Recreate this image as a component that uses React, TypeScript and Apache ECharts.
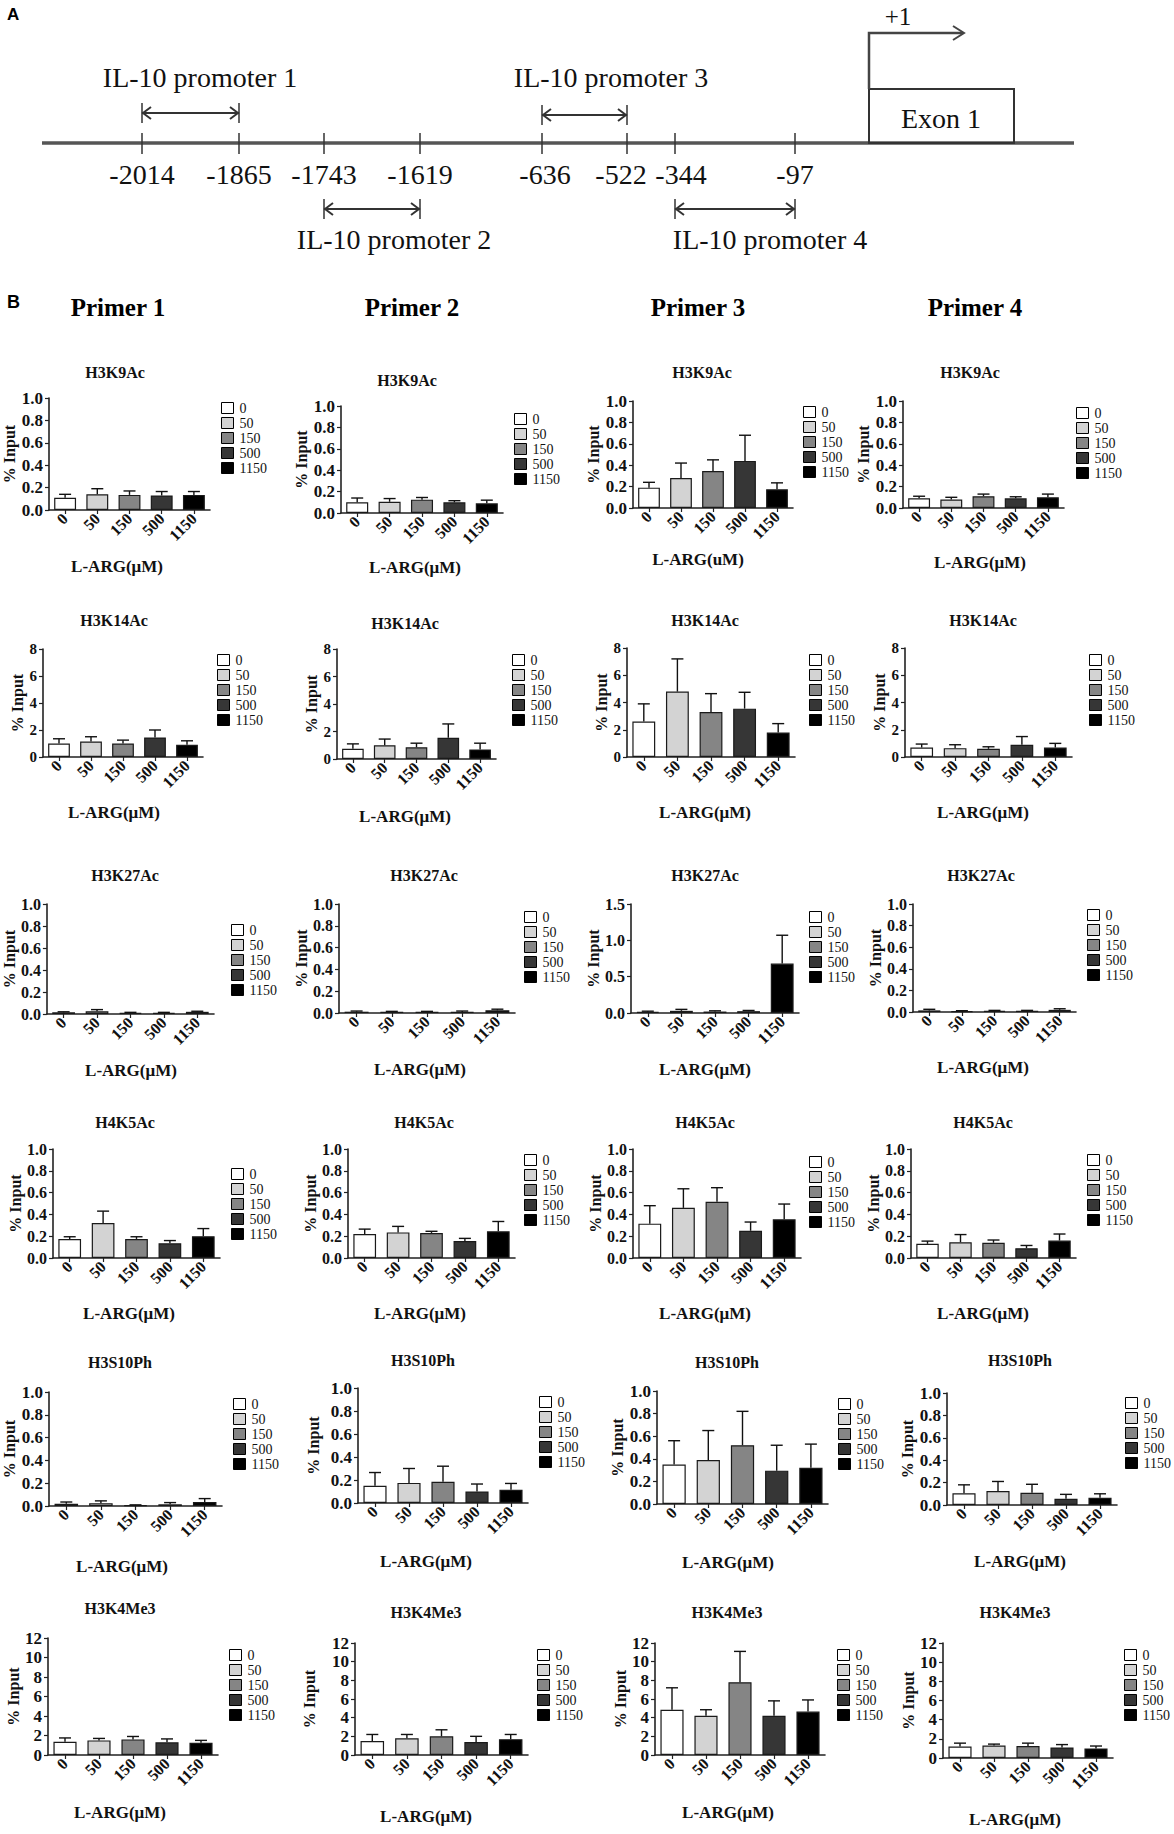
import React, { useEffect, useRef } from "react";
import * as echarts from "echarts";

const SERIF = "'Liberation Serif', 'Times New Roman', serif";
const SANS = "'Liberation Sans', Arial, sans-serif";

const doses = ["0", "50", "150", "500", "1150"];
const doseColors = ["#ffffff", "#d3d3d3", "#858585", "#363636", "#000000"];
const primers = ["Primer 1", "Primer 2", "Primer 3", "Primer 4"];
const marks = ["H3K9Ac", "H3K14Ac", "H3K27Ac", "H4K5Ac", "H3S10Ph", "H3K4Me3"];

// mean % input, [primer][dose]
const h3k9acMean = [
  [0.11, 0.14, 0.135, 0.13, 0.135],
  [0.1, 0.105, 0.125, 0.1, 0.09],
  [0.19, 0.28, 0.345, 0.44, 0.175],
  [0.09, 0.08, 0.11, 0.09, 0.1],
];
const h3k9acSd = [
  [0.03, 0.05, 0.035, 0.035, 0.03],
  [0.04, 0.03, 0.02, 0.015, 0.03],
  [0.05, 0.14, 0.105, 0.24, 0.06],
  [0.02, 0.02, 0.02, 0.015, 0.03],
];
const h3k14acMean = [
  [1.0, 1.15, 1.0, 1.45, 0.9],
  [0.75, 1.0, 0.85, 1.55, 0.7],
  [2.6, 4.8, 3.3, 3.55, 1.8],
  [0.7, 0.65, 0.6, 0.9, 0.7],
];
const h3k14acSd = [
  [0.35, 0.35, 0.25, 0.55, 0.3],
  [0.35, 0.45, 0.3, 1.0, 0.45],
  [1.3, 2.4, 1.35, 1.2, 0.65],
  [0.25, 0.25, 0.15, 0.6, 0.3],
];
const h3k27acMean = [
  [0.015, 0.025, 0.01, 0.01, 0.02],
  [0.012, 0.01, 0.01, 0.01, 0.025],
  [0.015, 0.03, 0.02, 0.025, 0.68],
  [0.015, 0.008, 0.01, 0.012, 0.02],
];
const h3k27acSd = [
  [0.005, 0.015, 0.005, 0.005, 0.005],
  [0.006, 0.005, 0.005, 0.008, 0.01],
  [0.01, 0.02, 0.01, 0.01, 0.39],
  [0.01, 0.004, 0.005, 0.003, 0.01],
];
const h4k5acMean = [
  [0.175, 0.32, 0.175, 0.135, 0.2],
  [0.22, 0.235, 0.23, 0.155, 0.245],
  [0.315, 0.46, 0.515, 0.25, 0.355],
  [0.13, 0.145, 0.14, 0.09, 0.16],
];
const h4k5acSd = [
  [0.02, 0.11, 0.02, 0.025, 0.07],
  [0.045, 0.055, 0.015, 0.025, 0.09],
  [0.165, 0.175, 0.13, 0.08, 0.14],
  [0.025, 0.07, 0.025, 0.025, 0.06],
];
const h3s10phMean = [
  [0.02, 0.025, 0.008, 0.015, 0.035],
  [0.15, 0.175, 0.185, 0.1, 0.115],
  [0.35, 0.39, 0.52, 0.295, 0.32],
  [0.105, 0.125, 0.11, 0.055, 0.065],
];
const h3s10phSd = [
  [0.015, 0.02, 0.002, 0.015, 0.03],
  [0.115, 0.125, 0.135, 0.065, 0.055],
  [0.21, 0.26, 0.3, 0.225, 0.21],
  [0.075, 0.085, 0.075, 0.04, 0.035],
];
const h3k4me3Mean = [
  [1.35, 1.5, 1.6, 1.3, 1.25],
  [1.5, 1.8, 2.0, 1.4, 1.7],
  [4.85, 4.2, 7.8, 4.2, 4.65],
  [1.2, 1.3, 1.25, 1.1, 1.0],
];
const h3k4me3Sd = [
  [0.4, 0.2, 0.3, 0.35, 0.25],
  [0.7, 0.4, 0.7, 0.6, 0.5],
  [2.35, 0.65, 3.3, 1.6, 1.25],
  [0.35, 0.15, 0.3, 0.3, 0.25],
];

const meanTables = [h3k9acMean, h3k14acMean, h3k27acMean, h4k5acMean, h3s10phMean, h3k4me3Mean];
const sdTables = [h3k9acSd, h3k14acSd, h3k27acSd, h4k5acSd, h3s10phSd, h3k4me3Sd];

// y axis max / interval, [mark][primer]
const yMax = [
  [1, 1, 1, 1],
  [8, 8, 8, 8],
  [1, 1, 1.5, 1],
  [1, 1, 1, 1],
  [1, 1, 1, 1],
  [12, 12, 12, 12],
];
const yStep = [
  [0.2, 0.2, 0.2, 0.2],
  [2, 2, 2, 2],
  [0.2, 0.2, 0.5, 0.2],
  [0.2, 0.2, 0.2, 0.2],
  [0.2, 0.2, 0.2, 0.2],
  [2, 2, 2, 2],
];
const xNames = [
  ["L-ARG(μM)", "L-ARG(μM)", "L-ARG(uM)", "L-ARG(μM)"],
  ["L-ARG(μM)", "L-ARG(μM)", "L-ARG(μM)", "L-ARG(μM)"],
  ["L-ARG(μM)", "L-ARG(μM)", "L-ARG(μM)", "L-ARG(μM)"],
  ["L-ARG(μM)", "L-ARG(μM)", "L-ARG(μM)", "L-ARG(μM)"],
  ["L-ARG(μM)", "L-ARG(μM)", "L-ARG(μM)", "L-ARG(μM)"],
  ["L-ARG(μM)", "L-ARG(μM)", "L-ARG(μM)", "L-ARG(μM)"],
];

// Panel A diagram labels
const siteLabels = ["-2014", "-1865", "-1743", "-1619", "-636", "-522", "-344", "-97"];
const promoterLabels = ["IL-10 promoter 1", "IL-10 promoter 2", "IL-10 promoter 3", "IL-10 promoter 4"];

// ---------- layout (pixels) ----------
// [gridLeft, gridTop, gridRight, gridBottom, titleX, titleY, legendX, legendY, xNameX, xNameY, yNameX]
const layout = [
  [
    [49, 398, 210, 510, 115, 372, 221, 401, 117, 567, 10],
    [341, 406, 503, 513, 407, 380, 514, 412, 415, 568, 305],
    [633, 401, 793, 508, 702, 372, 803, 405, 698, 560, 595],
    [903, 401, 1064, 508, 970, 372, 1076, 406, 980, 563, 863],
  ],
  [
    [43, 649, 203, 757, 114, 620, 217, 653, 114, 813, 17],
    [337, 649, 496, 759, 405, 623, 512, 653, 405, 817, 314],
    [627, 648, 795, 757, 705, 620, 809, 653, 705, 813, 606],
    [905, 648, 1072, 757, 983, 620, 1089, 653, 983, 813, 883],
  ],
  [
    [43, 904, 214, 1014, 125, 875, 231, 923, 129, 1071, 19],
    [339, 904, 515, 1013, 424, 875, 524, 910, 420, 1070, 314],
    [631, 904, 799, 1013, 705, 875, 809, 910, 705, 1070, 602],
    [913, 904, 1076, 1012, 981, 875, 1087, 908, 983, 1068, 879],
  ],
  [
    [53, 1149, 220, 1258, 125, 1122, 231, 1167, 129, 1314, 19],
    [348, 1149, 515, 1258, 424, 1122, 524, 1153, 420, 1314, 314],
    [633, 1149, 801, 1258, 705, 1122, 809, 1155, 705, 1314, 598],
    [911, 1149, 1076, 1258, 983, 1122, 1087, 1153, 983, 1314, 879],
  ],
  [
    [49, 1392, 222, 1506, 120, 1362, 233, 1397, 122, 1567, 13],
    [358, 1388, 528, 1503, 423, 1360, 539, 1395, 426, 1562, 313],
    [657, 1391, 828, 1504, 727, 1362, 838, 1397, 728, 1563, 618],
    [947, 1393, 1117, 1505, 1020, 1360, 1125, 1396, 1020, 1562, 917],
  ],
  [
    [48, 1638, 218, 1755, 120, 1608, 229, 1648, 120, 1813, 13],
    [355, 1643, 528, 1755, 426, 1612, 537, 1648, 426, 1817, 309],
    [655, 1643, 825, 1755, 727, 1612, 837, 1648, 728, 1813, 620],
    [943, 1643, 1113, 1758, 1015, 1612, 1124, 1648, 1015, 1820, 913],
  ],
];
const primerTitlePos = [[118, 307], [412, 307], [698, 307], [975, 307]];
const tickLabelSize = [17, 15, 16, 16, 17, 17];

// diagram geometry
const diagLine = { x1: 42, x2: 1074, y: 143 };
const siteX = [142, 239, 324, 420, 542, 627, 675, 795];
const siteLabelX = [142, 239, 324, 420, 545, 621, 681, 795];
const promoterDefs = [
  { a: 0, b: 1, y: 113, ly: 77, lx: 200 },
  { a: 2, b: 3, y: 209, ly: 239, lx: 394 },
  { a: 4, b: 5, y: 115, ly: 77, lx: 611 },
  { a: 6, b: 7, y: 209, ly: 239, lx: 770 },
];

function buildDiagram(): any[] {
  const els: any[] = [];
  const stroke = "#333";
  els.push({
    type: "line",
    shape: { x1: diagLine.x1, y1: diagLine.y, x2: diagLine.x2, y2: diagLine.y },
    style: { stroke: "#555", lineWidth: 3.5 },
  });
  siteX.forEach((x, i) => {
    els.push({
      type: "line",
      shape: { x1: x, y1: 133, x2: x, y2: 154 },
      style: { stroke, lineWidth: 1.5 },
    });
    els.push({
      type: "text",
      x: siteLabelX[i],
      y: 174,
      style: {
        text: siteLabels[i],
        fontFamily: SERIF,
        fontSize: 28,
        fill: "#111",
        align: "center",
        verticalAlign: "middle",
      },
    });
  });
  promoterDefs.forEach((p, i) => {
    const xa = siteX[p.a];
    const xb = siteX[p.b];
    els.push({ type: "line", shape: { x1: xa, y1: p.y, x2: xb, y2: p.y }, style: { stroke, lineWidth: 2 } });
    els.push({ type: "line", shape: { x1: xa, y1: p.y - 10, x2: xa, y2: p.y + 10 }, style: { stroke, lineWidth: 1.5 } });
    els.push({ type: "line", shape: { x1: xb, y1: p.y - 10, x2: xb, y2: p.y + 10 }, style: { stroke, lineWidth: 1.5 } });
    els.push({
      type: "polyline",
      shape: { points: [[xa + 9, p.y - 6], [xa + 1, p.y], [xa + 9, p.y + 6]] },
      style: { stroke, lineWidth: 2, fill: "none" },
    });
    els.push({
      type: "polyline",
      shape: { points: [[xb - 9, p.y - 6], [xb - 1, p.y], [xb - 9, p.y + 6]] },
      style: { stroke, lineWidth: 2, fill: "none" },
    });
    els.push({
      type: "text",
      x: p.lx,
      y: p.ly,
      style: {
        text: promoterLabels[i],
        fontFamily: SERIF,
        fontSize: 28,
        fill: "#111",
        align: "center",
        verticalAlign: "middle",
      },
    });
  });
  // exon box
  els.push({
    type: "rect",
    shape: { x: 869, y: 89, width: 145, height: 54 },
    style: { fill: "none", stroke, lineWidth: 2 },
  });
  els.push({
    type: "text",
    x: 941,
    y: 118,
    style: { text: "Exon 1", fontFamily: SERIF, fontSize: 28, fill: "#111", align: "center", verticalAlign: "middle" },
  });
  // TSS arrow
  els.push({
    type: "polyline",
    shape: { points: [[869, 89], [869, 33], [963, 33]] },
    style: { stroke: "#444", lineWidth: 2.5, fill: "none" },
  });
  els.push({
    type: "polyline",
    shape: { points: [[953, 26], [964, 33], [953, 40]] },
    style: { stroke: "#444", lineWidth: 2, fill: "none" },
  });
  els.push({
    type: "text",
    x: 898,
    y: 4,
    style: { text: "+1", fontFamily: SERIF, fontSize: 25, fill: "#111", align: "center", verticalAlign: "top" },
  });
  // panel letters
  els.push({
    type: "text",
    x: 7,
    y: 6,
    style: { text: "A", fontFamily: SANS, fontWeight: "bold", fontSize: 17, fill: "#000" },
  });
  els.push({
    type: "text",
    x: 7,
    y: 293,
    style: { text: "B", fontFamily: SANS, fontWeight: "bold", fontSize: 18, fill: "#000" },
  });
  primers.forEach((p, i) => {
    els.push({
      type: "text",
      x: primerTitlePos[i][0],
      y: primerTitlePos[i][1],
      style: {
        text: p,
        fontFamily: SERIF,
        fontWeight: "bold",
        fontSize: 25,
        fill: "#000",
        align: "center",
        verticalAlign: "middle",
      },
    });
  });
  return els;
}

function buildOption() {
  const grid: any[] = [];
  const xAxis: any[] = [];
  const yAxis: any[] = [];
  const series: any[] = [];
  const legend: any[] = [];
  const graphic: any[] = buildDiagram();

  marks.forEach((mk, r) => {
    for (let c = 0; c < 4; c++) {
      const k = r * 4 + c;
      const [gx, gt, gr, gb, tx, ty, lx, ly, nx, ny, yx] = layout[r][c];
      const means = meanTables[r][c];
      const sds = sdTables[r][c];
      const step = yStep[r][c];
      const dec = step < 1 ? 1 : 0;
      const fs = tickLabelSize[r];
      grid.push({ left: gx, top: gt, width: gr - gx, height: gb - gt, containLabel: false });
      const shift = nx - (gx + (gr - gx) / 2);
      xAxis.push({
        type: "category",
        gridIndex: k,
        data: doses,
        name: xNames[r][c],
        nameLocation: "middle",
        nameGap: ny - gb - 9,
        nameTextStyle: {
          fontFamily: SERIF,
          fontWeight: "bold",
          fontSize: 17,
          color: "#111",
          padding: shift < 0 ? [0, -2 * shift, 0, 0] : [0, 0, 0, 2 * shift],
        },
        axisLine: { show: true, lineStyle: { color: "#222", width: 1.6 } },
        axisTick: { show: true, alignWithLabel: true, length: 4, lineStyle: { color: "#222", width: 1.2 } },
        axisLabel: {
          interval: 0,
          rotate: 45,
          margin: 6,
          fontFamily: SERIF,
          fontWeight: "bold",
          fontSize: 16,
          color: "#111",
        },
        splitLine: { show: false },
      });
      yAxis.push({
        type: "value",
        gridIndex: k,
        min: 0,
        max: yMax[r][c],
        interval: step,
        name: "% Input",
        nameLocation: "middle",
        nameRotate: 90,
        nameGap: gx - yx - 8,
        nameTextStyle: { fontFamily: SERIF, fontWeight: "bold", fontSize: 16, color: "#111" },
        axisLine: { show: true, lineStyle: { color: "#222", width: 1.6 } },
        axisTick: { show: true, length: 4, lineStyle: { color: "#222", width: 1.2 } },
        axisLabel: {
          margin: 6,
          fontFamily: SERIF,
          fontWeight: "bold",
          fontSize: fs,
          color: "#111",
          formatter: (v: number) => v.toFixed(dec),
        },
        splitLine: { show: false },
      });
      doses.forEach((d, i) => {
        series.push({
          type: "bar",
          name: d,
          xAxisIndex: k,
          yAxisIndex: k,
          stack: "s" + k,
          barWidth: "68%",
          silent: true,
          data: doses.map((_, j) => (j === i ? means[j] : "-")),
          itemStyle: { color: doseColors[i], borderColor: "#1a1a1a", borderWidth: 1.2 },
        });
      });
      series.push({
        type: "custom",
        name: "SD",
        xAxisIndex: k,
        yAxisIndex: k,
        silent: true,
        z: 5,
        encode: { x: 0, y: [1, 2] },
        data: means.map((m, i) => [i, m, m + sds[i]]),
        renderItem: (_p: any, api: any) => {
          const base = api.coord([api.value(0), api.value(1)]);
          const top = api.coord([api.value(0), api.value(2)]);
          const st = { stroke: "#111", lineWidth: 1.4 };
          return {
            type: "group",
            children: [
              { type: "line", shape: { x1: base[0], y1: base[1], x2: top[0], y2: top[1] }, style: st },
              { type: "line", shape: { x1: top[0] - 6, y1: top[1], x2: top[0] + 6, y2: top[1] }, style: st },
            ],
          };
        },
      });
      legend.push({
        data: doses,
        left: lx,
        top: ly,
        padding: 0,
        orient: "vertical",
        icon: "rect",
        itemWidth: 12,
        itemHeight: 11,
        itemGap: 1,
        selectedMode: false,
        itemStyle: { borderColor: "#000", borderWidth: 1 },
        textStyle: { fontFamily: SERIF, fontSize: 14, color: "#111", lineHeight: 13, padding: [0, 0, 0, 1] },
      });
      graphic.push({
        type: "text",
        x: tx,
        y: ty,
        style: {
          text: mk,
          fontFamily: SERIF,
          fontWeight: "bold",
          fontSize: 16,
          fill: "#111",
          align: "center",
          verticalAlign: "middle",
        },
      });
    }
  });

  return {
    animation: false,
    backgroundColor: "#ffffff",
    grid,
    xAxis,
    yAxis,
    series,
    legend,
    graphic,
  };
}

export default function App() {
  const ref = useRef<HTMLDivElement>(null);
  useEffect(() => {
    if (!ref.current) return;
    const chart = echarts.init(ref.current, undefined, { renderer: "svg", width: 1174, height: 1834 });
    chart.setOption(buildOption() as any);
    return () => chart.dispose();
  }, []);
  return (
    <div
      ref={ref}
      style={{ position: "absolute", left: 0, top: 0, width: 1174, height: 1834, background: "#fff" }}
    />
  );
}
